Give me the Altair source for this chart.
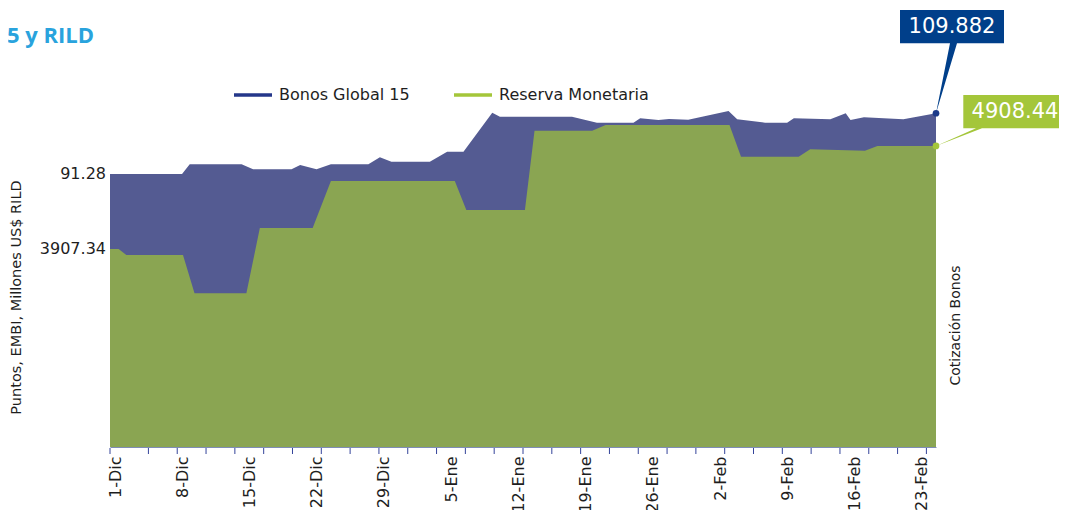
import json
import altair as alt
import pandas as pd

# ---------------- data ----------------
serie_nombres = ["Bonos Global 15", "Reserva Monetaria"]

# days since 1-Dic
bonos_dias = [0, 7.5, 8.3, 13.7, 14.9, 18.9, 19.8, 21.5, 23.0, 26.9,
              28.1, 29.3, 33.3, 35.1, 36.8, 39.8, 40.6, 48.1, 50.7, 54.5,
              55.2, 57.1, 58.2, 60.2, 64.4, 65.3, 68.2, 70.5, 71.2, 75.0,
              76.6, 77.1, 78.5, 82.6, 86.0]
bonos_valores = [91.28, 91.28, 94.24, 94.24, 92.71, 92.71, 94.02, 92.71, 94.24, 94.24,
                 96.38, 95.03, 95.03, 98.10, 98.10, 110.05, 108.83, 108.83, 106.99, 106.99,
                 108.34, 107.81, 108.12, 107.91, 110.57, 108.03, 106.99, 106.99, 108.34, 108.03,
                 109.88, 107.81, 108.64, 108.03, 109.882]

reserva_dias = [0, 0.9, 1.7, 7.6, 8.8, 14.2, 15.6, 21.1, 23.0, 35.9, 37.1,
                43.2, 44.2, 50.2, 51.6, 64.5, 65.7, 71.7, 72.9, 78.6, 79.9, 86.0]
reserva_valores = [3907.34, 3907.34, 3849, 3849, 3477, 3477, 4111, 4111, 4568, 4568, 4286,
                   4286, 5057, 5057, 5112, 5112, 4804, 4804, 4876, 4863, 4908.44, 4908.44]

etiquetas_x = ["1-Dic", "8-Dic", "15-Dic", "22-Dic", "29-Dic", "5-Ene", "12-Ene",
               "19-Ene", "26-Ene", "2-Feb", "9-Feb", "16-Feb", "23-Feb"]
etiquetas_dias = [0, 7, 14, 21, 28, 35, 42, 49, 56, 63, 70, 77, 84]
marcas_dias = [0, 4, 7, 10, 13, 16, 19, 22, 25, 28, 31, 34, 37, 40, 43, 46, 49,
               52, 55, 58, 61, 64, 67, 70, 73, 76, 79, 82, 85]

titulo = "Bonos Global 15 y RILD"
eje_izq = "Puntos, EMBI, Millones US$ RILD"
eje_der = "Cotización Bonos"

# ---------------- styling ----------------
FONT = "DejaVu Sans"
C_BONOS_AREA = "#545B92"
C_RESERVA_AREA = "#8AA552"
C_BONOS = "#24378A"
C_RESERVA = "#A4C63A"
C_BONOS_BOX = "#003F8A"
TXT = "#1E1E1E"

W, H = 826, 387
X_DOM = [0, 86]
Y_BONOS = [7.6, 126.2]
Y_RESERVA = [1983, 5744]

bonos = pd.DataFrame({"d": bonos_dias, "v": bonos_valores, "serie": serie_nombres[0]})
reserva = pd.DataFrame({"d": reserva_dias, "v": reserva_valores, "serie": serie_nombres[1]})
marcas = pd.DataFrame({"d": marcas_dias})
bonos_ini, bonos_fin = bonos.iloc[[0]], bonos.iloc[[-1]]
reserva_ini, reserva_fin = reserva.iloc[[0]], reserva.iloc[[-1]]

label_expr = json.dumps(etiquetas_x) + "[round(datum.value / 7)]"

x_enc = alt.X(
    "d:Q",
    scale=alt.Scale(domain=X_DOM, nice=False, zero=False),
    axis=alt.Axis(
        values=etiquetas_dias, labelExpr=label_expr, labelAngle=270,
        labelFontSize=16, labelColor=TXT, labelPadding=9, labelOffset=5,
        labelFlush=False, labelOverlap=False, ticks=False, grid=False,
        domainColor="#7F8DB5", domainWidth=1, title=None, zindex=1,
    ),
)


def y_b(axis=None):
    return alt.Y("v:Q", scale=alt.Scale(domain=Y_BONOS, nice=False, zero=False, clamp=True), axis=axis)


def y_r(axis=None):
    return alt.Y("v:Q", scale=alt.Scale(domain=Y_RESERVA, nice=False, zero=False, clamp=True), axis=axis)


area_bonos = alt.Chart(bonos).mark_area(color=C_BONOS_AREA, opacity=1).encode(
    x=x_enc,
    y=y_b(alt.Axis(orient="right", labels=False, ticks=False, domain=False, grid=False,
                   title=eje_der, titleAngle=270, titleAlign="center", titleBaseline="middle",
                   titleX=19, titleY=265, titleFontSize=14, titleFontWeight="normal",
                   titleColor=TXT)),
)

area_reserva = alt.Chart(reserva).mark_area(color=C_RESERVA_AREA, opacity=1).encode(
    x=x_enc,
    y=y_r(alt.Axis(orient="left", labels=False, ticks=False, domain=False, grid=False,
                   title=eje_izq, titleAngle=270, titleAlign="center", titleBaseline="middle",
                   titleX=-94, titleY=237, titleFontSize=14.5, titleFontWeight="normal",
                   titleColor=TXT)),
)

leyenda = alt.Chart(bonos).mark_line(strokeWidth=3.5).encode(
    x=x_enc,
    y=y_b(),
    color=alt.Color(
        "serie:N",
        scale=alt.Scale(domain=serie_nombres, range=[C_BONOS, C_RESERVA]),
        legend=alt.Legend(
            orient="none", legendX=122, legendY=14, direction="horizontal", title=None,
            symbolType="stroke", symbolSize=1444, symbolStrokeWidth=3.5,
            labelFontSize=16, labelColor=TXT, labelOffset=5, columnPadding=37,
            padding=0, labelFont=FONT,
        ),
    ),
).transform_filter("false")

ticks = alt.Chart(marcas).mark_rule(color="#34449A", strokeWidth=1).encode(
    x=x_enc, y=alt.value(H + 1), y2=alt.value(H + 7)
)

lab_bonos_ini = alt.Chart(bonos_ini).mark_text(
    align="right", baseline="middle", dx=-4, fontSize=16, color=TXT
).encode(x=x_enc, y=y_b(), text=alt.Text("v:Q", format=".2f"))

lab_reserva_ini = alt.Chart(reserva_ini).mark_text(
    align="right", baseline="middle", dx=-4, fontSize=16, color=TXT
).encode(x=x_enc, y=y_r(), text=alt.Text("v:Q", format=".2f"))

caja_bonos = alt.Chart(bonos_fin).mark_point(
    shape="M-0.36,-1.032L0.68,-1.032L0.68,-0.699L0.21,-0.699L0,0L0.14,-0.699L-0.36,-0.699Z",
    size=40000, filled=True, color=C_BONOS_BOX, opacity=1, strokeWidth=0,
).encode(x=x_enc, y=y_b())

caja_reserva = alt.Chart(reserva_fin).mark_point(
    shape="M0.273,-0.51L1.25,-0.51L1.25,-0.177L0.46,-0.177L0,0L0.40,-0.177L0.273,-0.177Z",
    size=40000, filled=True, color=C_RESERVA, opacity=1, strokeWidth=0,
).encode(x=x_enc, y=y_r())

punto_bonos = alt.Chart(bonos_fin).mark_point(
    filled=True, size=45, color="#1D3A8A", opacity=1
).encode(x=x_enc, y=y_b())

punto_reserva = alt.Chart(reserva_fin).mark_point(
    filled=True, size=45, color=C_RESERVA, opacity=1
).encode(x=x_enc, y=y_r())

txt_bonos_fin = alt.Chart(bonos_fin).mark_text(
    align="center", baseline="middle", dx=16, dy=-86, fontSize=21, color="white"
).encode(x=x_enc, y=y_b(), text=alt.Text("v:Q", format=".3f"))

txt_reserva_fin = alt.Chart(reserva_fin).mark_text(
    align="center", baseline="middle", dx=79, dy=-34, fontSize=21, color="white"
).encode(x=x_enc, y=y_r(), text=alt.Text("v:Q", format=".2f"))

titulo_txt = alt.Chart(pd.DataFrame({"t": [titulo]})).mark_text(
    align="right", baseline="alphabetic", fontSize=22, fontWeight="bold",
    font="Open Sans", color="#29A3DD",
).encode(x=alt.value(-16), y=alt.value(-17), text="t:N")

chart = alt.layer(
    area_bonos, area_reserva, leyenda, ticks,
    lab_bonos_ini, lab_reserva_ini,
    caja_bonos, caja_reserva, punto_bonos, punto_reserva,
    txt_bonos_fin, txt_reserva_fin, titulo_txt,
).resolve_scale(y="independent").properties(
    width=W, height=H,
    autosize=alt.AutoSizeParams(type="none"),
    padding={"left": 102, "top": 52, "right": 123, "bottom": 63},
).configure(font=FONT).configure_view(strokeWidth=0)

chart.save("out.html", embed_options={"renderer": "svg", "actions": False})
